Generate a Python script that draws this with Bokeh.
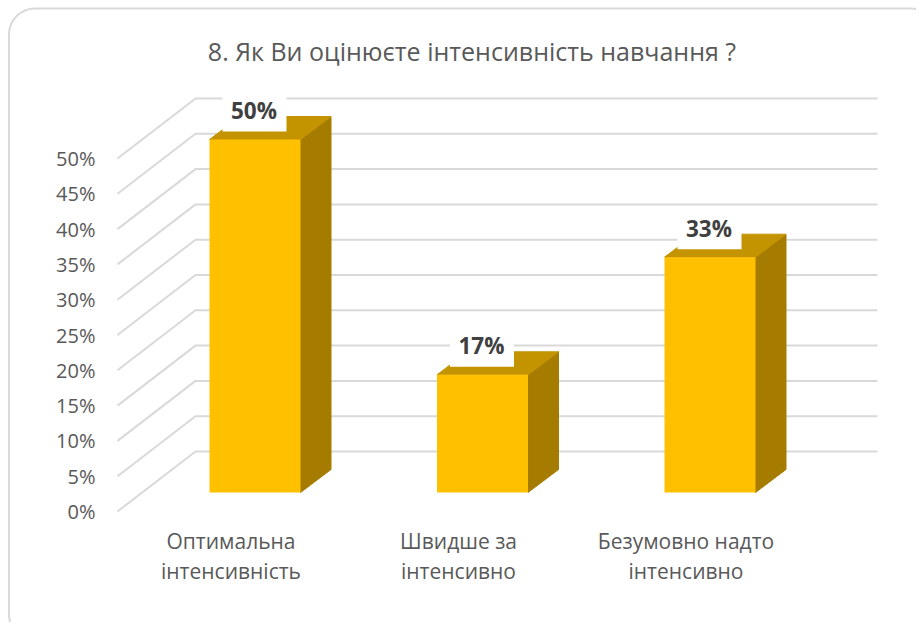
from bokeh.embed import file_html
from bokeh.resources import INLINE
from bokeh.plotting import figure
from bokeh.models import LinearAxis, FixedTicker, Range1d, PrintfTickFormatter
from bokeh.core.properties import value
import math

title = "8. Як Ви оцінюєте інтенсивність навчання ?"
categories = [["Оптимальна", "інтенсивність"], ["Швидше за", "інтенсивно"], ["Безумовно надто", "інтенсивно"]]
shares = [50.0, 16.67, 33.33]
share_labels = ["50%", "17%", "33%"]
y_ticks = list(range(0, 55, 5))

W, H = 916, 622
PX_X = 227.5      # pixels per category
PX_Y = 7.06       # pixels per percent
X0 = 254.5        # pixel of category 0
Y0 = 511          # pixel of 0%
fx = lambda px: (px - X0) / PX_X
fy = lambda py: (Y0 - py) / PX_Y

p = figure(width=W, height=H, output_backend="svg", toolbar_location=None,
           x_range=Range1d(fx(0), fx(W)), y_range=Range1d(fy(H), fy(0)),
           min_border=0, min_border_left=0, min_border_right=0, min_border_top=0, min_border_bottom=0,
           x_axis_location=None, y_axis_location=None)
p.grid.visible = False
p.outline_line_color = None
p.background_fill_color = "white"
p.border_fill_color = "white"

def corner(cx, cy, r, a0, a1, n=12):
    return [(cx + r * math.cos(math.radians(a0 + (a1 - a0) * i / n)),
             cy + r * math.sin(math.radians(a0 + (a1 - a0) * i / n))) for i in range(n + 1)]
L, T, R, B = 8.5, 8, 936, 640
r = 26
pts = (corner(L + r, T + r, r, 180, 270) + corner(R - r, T + r, r, 270, 360) +
       corner(R - r, B - r, r, 0, 90) + corner(L + r, B - r, r, 90, 180))
pts.append(pts[0])
p.line([fx(a) for a, _ in pts], [fy(b) for _, b in pts], line_color="#d9d9d9", line_width=2)

FRONT_X, BACK_X, END_X = fx(117), fx(195), fx(877)
WALL_DY = 60 / PX_Y
for t in y_ticks:
    p.line([FRONT_X, BACK_X, END_X], [t, t + WALL_DY, t + WALL_DY], line_color="#d9d9d9", line_width=2)

HALF = 45.5 / PX_X
DX = 30.5 / PX_X
DY = 23 / PX_Y
BASE = 19 / PX_Y
FRONT, TOP, SIDE = "#ffc000", "#c49300", "#a67c00"
for i, v in enumerate(shares):
    l, rr = i - HALF, i + HALF
    b, t = BASE, BASE + v
    p.patch([rr, rr + DX, rr + DX, rr], [b, b + DY, t + DY, t], fill_color=SIDE, line_color=SIDE, line_width=1)
    p.patch([l, l + DX, rr + DX, rr], [t, t + DY, t + DY, t], fill_color=TOP, line_color=TOP, line_width=1)
    p.patch([l, rr, rr, l], [b, b, t, t], fill_color=FRONT, line_color=None)
    bh = 32 / PX_X
    p.quad(left=[i - 0.5 / PX_X - bh], right=[i - 0.5 / PX_X + bh], bottom=[t + 8 / PX_Y], top=[t + 44 / PX_Y],
           fill_color="white", line_color=None)
    p.text([i - 1 / PX_X], [t + 29 / PX_Y], text=[share_labels[i]], text_align="center", text_baseline="middle",
           text_font=value("Open Sans"), text_font_size="22.5px", text_font_style="bold", text_color="#404040")

ax = LinearAxis(ticker=FixedTicker(ticks=y_ticks), formatter=PrintfTickFormatter(format="%d%%"),
                fixed_location=fx(105))
ax.axis_line_color = None
ax.major_tick_line_color = None
ax.minor_tick_line_color = None
ax.major_label_standoff = 4
ax.major_label_text_color = "#595959"
ax.major_label_text_font = "Open Sans"
ax.major_label_text_font_size = "20px"
p.add_layout(ax, "left")

for i, lines in enumerate(categories):
    for j, s in enumerate(lines):
        p.text([i - 24 / PX_X], [fy(540 + j * 30)], text=[s], text_align="center", text_baseline="middle",
               text_font=value("Open Sans"), text_font_size="21px", text_color="#595959")

p.text([fx(471.5)], [fy(50.5)], text=[title], text_align="center", text_baseline="middle",
       text_font=value("Open Sans"), text_font_size="25px", text_color="#595959")

open("out.html", "w").write(file_html(p, INLINE))
